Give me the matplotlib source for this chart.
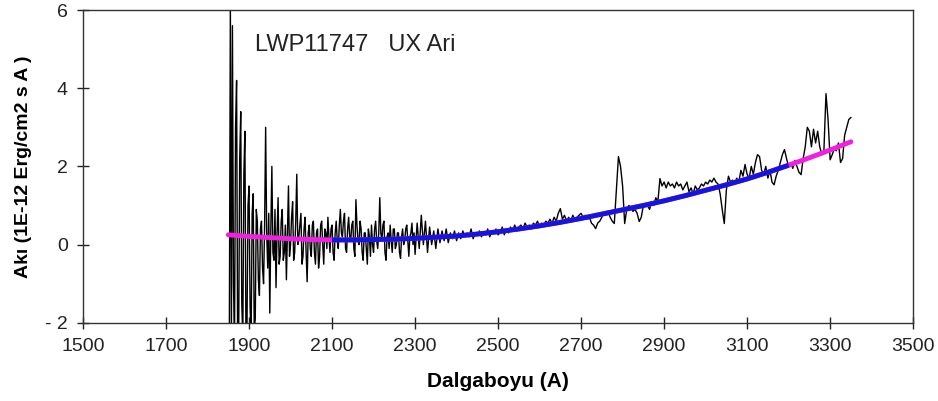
"""
IUE LWP11747 spectrum of UX Ari with a smooth continuum fit.
"""
import matplotlib
matplotlib.use('Agg')
import matplotlib.pyplot as plt
import numpy as np

plt.rcParams['font.family'] = ['Liberation Sans', 'DejaVu Sans']

# noisy short-wavelength end, 2.5 A steps starting at 1850 A
DENSE_START = 1850
DENSE_STEP = 2.5
dense_flux = [
    -2.5, -2.5, 6.2, -2.5, 5.6, -1.0, -2.5, 3.0, 4.2, -2.5,
    -2.4, 2.2, 3.4, -1.5, -2.4, 1.8, 2.9, -2.3, -2.2, 1.0,
    1.5, -1.6, -2.4, 0.8, 1.3, -2.2, -1.9, 0.9, 0.6, -0.9,
    -1.3, 0.4, 0.6, -0.6, -1.0, 0.5, 3.0, 0.3, -0.6, 0.8,
    -1.75, 0.4, 2.0, -0.2, -0.4, 0.9, -1.1, 0.3, 1.2, -0.5,
    -0.3, 0.6, 0.9, -0.4, -0.2, 0.5, -0.9, 0.3, 1.5, -0.3,
    0.0, 0.7, 1.1, -0.4, -0.2, 0.6, 1.8, 0.0, 0.2, 0.5,
    0.8, -0.5, -0.3, 0.4, 0.7, -0.2, -0.95, 0.3, 0.5, -0.1,
    -0.3, 0.5, 0.6, -0.2, -0.5, 0.3, 0.4, -0.6, -0.3, 0.5,
    0.6, 0.0, -0.5, 0.4, 0.3, -0.1, 0.7, 0.2, -0.2, 0.4,
    0.5, -0.2, -0.4, 0.3, 0.6, 0.1, -0.1, 0.5, 0.9, 0.3,
    0.2, 0.6, 0.8, -0.1, -0.2, 0.4, 0.7, 0.2, 0.1, 0.5,
    0.6, -0.1, -0.3, 1.15, 0.5, 0.1, 0.0, 0.6, 0.4, -0.2,
    -0.4, 0.3, 0.3, -0.1, -0.5, 0.4, 0.2, -0.3, 0.5, 0.0,
    -0.2, 0.4, 0.6, 0.1, -0.1, 0.3, 1.2, 0.3, 0.1, 0.5,
    0.6, -0.2, -0.4, 0.2, 0.3, -0.1, 0.5, 0.1, -0.2, 0.4,
    0.4, -0.1, 0.0, 0.3, 0.3, -0.2, -0.35, 0.2, 0.4, 0.0,
    0.1, 0.4, 0.5, 0.1, -0.3, 0.2, 0.3, 0.55, 0.0, 0.3,
]

# rest of the spectrum, 5 A steps starting at 2300 A
WAVE_START = 2300
WAVE_STEP = 5
flux = [
    # 2300-2395
    -0.25, 0.55, -0.1, 0.75, 0.0, 0.6, -0.2, 0.45, 0.0, 0.35,
    -0.1, 0.4, 0.05, 0.35, 0.1, 0.4, 0.05, 0.3, 0.15, 0.35,
    # 2400-2495
    0.1, 0.3, 0.15, 0.35, 0.2, 0.3, 0.2, 0.4, 0.15, 0.3,
    0.25, 0.35, 0.2, 0.3, 0.25, 0.4, 0.2, 0.35, 0.3, 0.4,
    # 2500-2595
    0.25, 0.3, 0.45, 0.25, 0.4, 0.3, 0.45, 0.35, 0.5, 0.35,
    0.45, 0.5, 0.4, 0.55, 0.45, 0.5, 0.4, 0.55, 0.5, 0.6,
    # 2600-2695
    0.45, 0.55, 0.5, 0.6, 0.55, 0.65, 0.55, 0.7, 0.6, 0.8,
    0.92, 0.65, 0.75, 0.6, 0.7, 0.6, 0.75, 0.65, 0.7, 0.75,
    # 2700-2795
    0.8, 0.7, 0.75, 0.65, 0.7, 0.55, 0.5, 0.41, 0.55, 0.6,
    0.7, 0.8, 0.75, 0.85, 0.7, 0.6, 0.54, 1.4, 2.25, 2.0,
    # 2800-2895
    1.5, 0.54, 0.9, 1.0, 0.95, 0.85, 0.9, 0.8, 0.59, 0.7,
    1.0, 1.05, 1.0, 0.9, 1.1, 1.0, 1.2, 1.1, 1.69, 1.5,
    # 2900-2995
    1.6, 1.45, 1.6, 1.5, 1.55, 1.45, 1.6, 1.5, 1.55, 1.4,
    1.5, 1.6, 1.35, 1.45, 1.3, 1.5, 1.4, 1.45, 1.55, 1.5,
    # 3000-3095
    1.6, 1.55, 1.65, 1.6, 1.7, 1.6, 1.55, 1.3, 0.9, 0.54,
    1.4, 1.75, 1.6, 1.65, 1.55, 1.7, 1.6, 1.9, 1.75, 2.05,
    # 3100-3195
    1.8, 1.7, 2.0, 1.8, 2.1, 2.3, 2.25, 1.9, 1.8, 2.0,
    1.7, 1.9, 1.6, 1.53, 1.75, 1.9, 2.1, 2.3, 2.43, 2.2,
    # 3200-3295
    2.0, 2.1, 1.95, 2.15, 2.0, 1.85, 1.79, 2.2, 2.5, 3.0,
    2.9, 2.5, 2.95, 2.6, 2.9, 2.5, 2.3, 2.4, 3.86, 3.2,
    # 3300-3350
    2.17, 2.3, 2.45, 2.4, 2.6, 2.1, 2.2, 2.8, 3.0, 3.2,
    3.25,
]

# smooth continuum fit
fit_wave = [1850, 1900, 1950, 2000, 2050, 2100, 2150, 2200, 2250, 2300,
            2350, 2400, 2450, 2500, 2550, 2600, 2650, 2700, 2750, 2800,
            2850, 2900, 2950, 3000, 3050, 3100, 3150, 3200, 3250, 3300, 3350]
fit_flux = [0.25, 0.21, 0.18, 0.15, 0.13, 0.12, 0.12, 0.13, 0.14, 0.16,
            0.19, 0.22, 0.27, 0.33, 0.40, 0.48, 0.57, 0.67, 0.78, 0.89,
            1.00, 1.12, 1.25, 1.39, 1.53, 1.68, 1.85, 2.03, 2.22, 2.42, 2.63]
blue_range = (2100, 3200)

x_ticks = [1500, 1700, 1900, 2100, 2300, 2500, 2700, 2900, 3100, 3300, 3500]
y_ticks = [-2, 0, 2, 4, 6]
y_tick_labels = ['- 2', '0', '2', '4', '6']

wave = np.concatenate([DENSE_START + DENSE_STEP * np.arange(len(dense_flux)),
                       WAVE_START + WAVE_STEP * np.arange(len(flux))])
spec = np.concatenate([dense_flux, flux])
fit_wave = np.array(fit_wave)
fit_flux = np.array(fit_flux)
in_blue = (fit_wave >= blue_range[0]) & (fit_wave <= blue_range[1])

fig = plt.figure(figsize=(9.38, 4.01), dpi=100)
ax = fig.add_axes([0.0885, 0.195, 0.885, 0.78])

ax.plot(wave, spec, color='black', lw=1.0, zorder=2)
ax.plot(fit_wave, fit_flux, color='#F020E0', lw=3.5, solid_capstyle='round', zorder=3)
ax.plot(fit_wave[in_blue], fit_flux[in_blue], color='#1515E0', lw=3.5,
        solid_capstyle='butt', zorder=4)

ax.set_xlim(1500, 3500)
ax.set_ylim(-2, 6)
ax.set_xticks(x_ticks)
ax.set_yticks(y_ticks)
ax.set_yticklabels(y_tick_labels)
ax.tick_params(direction='inout', length=8, width=1, labelsize=14, colors='#222222')
ax.tick_params(axis='x', pad=7)
ax.tick_params(axis='y', pad=7)
for s in ax.spines.values():
    s.set_linewidth(1.0)
    s.set_color('#333333')

ax.text(1915, 4.95, 'LWP11747   UX Ari', fontsize=17, color='#222222')
ax.set_xlabel('Dalgaboyu (A)', fontsize=15, fontweight='bold', labelpad=12)
ax.set_ylabel('Akı (1E-12 Erg/cm2 s A )', fontsize=14, fontweight='bold', labelpad=9)

fig.savefig('out.png', dpi=100)
